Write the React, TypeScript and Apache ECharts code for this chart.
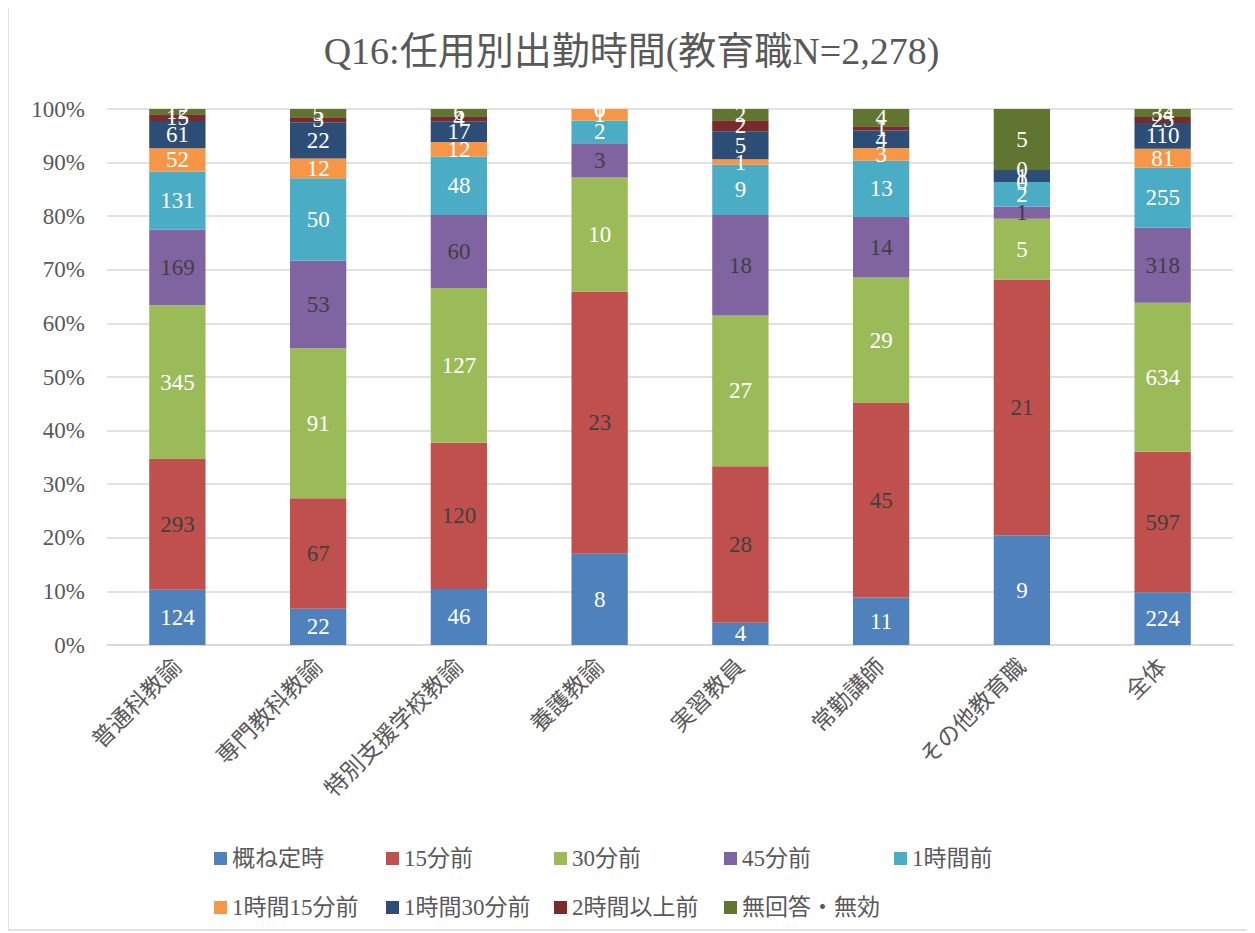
import React, { useEffect, useRef } from "react";
import * as echarts from "echarts";

const categories = ["普通科教諭", "専門教科教諭", "特別支援学校教諭", "養護教諭", "実習教員", "常勤講師", "その他教育職", "全体"];
const seriesNames = ["概ね定時", "15分前", "30分前", "45分前", "1時間前", "1時間15分前", "1時間30分前", "2時間以上前", "無回答・無効"];
const colors = ["#4F81BD", "#C0504D", "#9BBB59", "#8064A2", "#4BACC6", "#F79646", "#2C4D75", "#772C2A", "#5F7530"];
const labelColors = ["#ffffff", "#404040", "#ffffff", "#404040", "#ffffff", "#ffffff", "#ffffff", "#ffffff", "#ffffff"];

const teiji = [124, 22, 46, 8, 4, 11, 9, 224];
const min15 = [293, 67, 120, 23, 28, 45, 21, 597];
const min30 = [345, 91, 127, 10, 27, 29, 5, 634];
const min45 = [169, 53, 60, 3, 18, 14, 1, 318];
const hour1 = [131, 50, 48, 2, 9, 13, 2, 255];
const hour1m15 = [52, 12, 12, 1, 1, 3, 0, 81];
const hour1m30 = [61, 22, 17, 0, 5, 4, 1, 110];
const hour2 = [15, 3, 4, 0, 2, 1, 0, 25];
const noAnswer = [12, 5, 6, 0, 2, 4, 5, 34];

const counts = [teiji, min15, min30, min45, hour1, hour1m15, hour1m30, hour2, noAnswer];
const yTicks = { min: 0, max: 100, interval: 10 };

const legendLeft = [201, 373, 541, 711, 881, 201, 373, 541, 711];
const legendTop = [834, 834, 834, 834, 834, 883, 883, 883, 883];

const FONT = "'Liberation Serif', 'Noto Sans CJK JP', serif";

export default function App() {
  const ref = useRef<HTMLDivElement>(null);
  useEffect(() => {
    if (!ref.current) return;
    const chart = echarts.init(ref.current, null, { renderer: "svg" });
    const totals = categories.map((_, i) => counts.reduce((s, arr) => s + arr[i], 0));
    const series = counts.map((arr, si) => ({
      name: seriesNames[si],
      type: "bar",
      stack: "total",
      barWidth: "40%",
      itemStyle: { color: colors[si] },
      label: {
        show: true,
        position: "inside",
        color: labelColors[si],
        fontFamily: FONT,
        fontSize: 23,
        formatter: (p: any) => String(arr[p.dataIndex]),
      },
      data: arr.map((v, i) => (v / totals[i]) * 100),
    }));
    const legends = seriesNames.map((n, i) => ({
      data: [n],
      left: legendLeft[i],
      top: legendTop[i],
      itemWidth: 13,
      itemHeight: 13,
      itemGap: 5,
      icon: "rect",
      selectedMode: false,
      textStyle: { fontFamily: FONT, fontSize: 23, color: "#595959" },
    }));
    chart.setOption({
      animation: false,
      backgroundColor: "#ffffff",
      title: {
        text: "Q16:任用別出勤時間(教育職N=2,278)",
        left: "center",
        top: 19,
        textStyle: { fontFamily: FONT, fontSize: 38, fontWeight: "normal", color: "#595959" },
      },
      graphic: [
        {
          type: "rect",
          shape: { x: 0, y: -2, width: 1244, height: 924 },
          style: { fill: "none", stroke: "#d9d9d9", lineWidth: 1.5 },
          silent: true,
        },
      ],
      legend: legends,
      grid: { left: 99, right: 22, top: 101, bottom: 288, containLabel: false },
      xAxis: {
        type: "category",
        data: categories,
        axisLine: { lineStyle: { color: "#d9d9d9", width: 1.5 } },
        axisTick: { show: false },
        axisLabel: {
          rotate: 45,
          margin: 18,
          interval: 0,
          fontFamily: FONT,
          fontSize: 23,
          color: "#595959",
        },
      },
      yAxis: {
        type: "value",
        min: yTicks.min,
        max: yTicks.max,
        interval: yTicks.interval,
        axisLine: { show: false },
        axisTick: { show: false },
        splitLine: { lineStyle: { color: "#d9d9d9", width: 1.5 } },
        axisLabel: {
          formatter: "{value}%",
          margin: 22,
          fontFamily: FONT,
          fontSize: 23,
          color: "#595959",
        },
      },
      series,
    });
    return () => chart.dispose();
  }, []);
  return <div ref={ref} style={{ width: 1247, height: 925 }} />;
}
